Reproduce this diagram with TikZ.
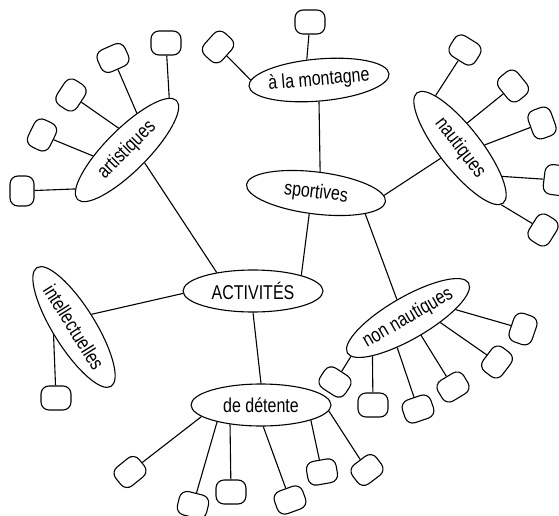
\documentclass[tikz,border=0pt]{standalone}
\usepackage{fontspec}
\setmainfont{Liberation Sans}[FakeStretch=0.8]
\usetikzlibrary{shapes.geometric}

\begin{document}
\begin{tikzpicture}[
    x=1pt, y=-1pt,
    line width=1.1pt,
    topic/.style={ellipse, draw, minimum width=140pt, minimum height=42pt, inner sep=-1pt, font=\fontsize{20}{22}\selectfont},
    leaf/.style={rectangle, draw, rounded corners=8pt, minimum width=30pt, minimum height=24pt}
]
    \useasboundingbox (0,0) rectangle (559,516);

    % main ellipses
    \node[topic] (act) at (253,291) {ACTIVITÉS};
    \node[topic, rotate=-7] (spo) at (316,193) {sportives};
    \node[topic, rotate=5] (mon) at (319,80) {à la montagne};
    \node[topic, rotate=-52] (nau) at (460,148) {nautiques};
    \node[topic, rotate=30] (non) at (408,318) {non nautiques};
    \node[topic] (det) at (261,405) {de détente};
    \node[topic, rotate=45] (art) at (127,150) {artistiques};
    \node[topic, rotate=-58] (int) at (74,327) {intellectuelles};

    \draw (act.153) -- (art.-81);
    \draw (act.18) -- (spo.259);
    \draw (act.182) -- (int.94);
    \draw (act.south) -- (det.north);
    \draw (mon.265) -- (spo.86);
    \draw (spo.5) -- (nau.260);
    \draw (spo.-16) -- (non.91);

    % empty boxes
    \foreach \n/\x/\y/\r/\a in {1/22/191/90/172, 2/42/135/64/145, 3/71/95/57/66, 4/113/58/24/30, 5/166/43/0/6} {
        \node[leaf, rotate=\r] (art\n) at (\x,\y) {};
        \draw (art.\a) -- (art\n);
    }
    \foreach \n/\x/\y/\r/\a in {1/310/22/0/116, 2/218/47/48/175} {
        \node[leaf, rotate=\r] (mon\n) at (\x,\y) {};
        \draw (mon.\a) -- (mon\n);
    }
    \foreach \n/\x/\y/\r/\a in {1/465/50/-32/167, 2/513/86/-51/126, 3/542/123/-70/59, 4/556/180/-97/18, 5/543/230/58/-2} {
        \node[leaf, rotate=\r] (nau\n) at (\x,\y) {};
        \draw (nau.\a) -- (nau\n);
    }
    \foreach \n/\x/\y/\r/\a in {1/335/382/-33/184, 2/373/405/0/197, 3/418/409/19/220, 4/453/387/31/-83, 5/497/362/53/-38, 6/523/329/71/-20} {
        \node[leaf, rotate=\r] (non\n) at (\x,\y) {};
        \draw (non.\a) -- (non\n);
    }
    \node[leaf] (int1) at (56,398) {};
    \draw (int.259) -- (int1);
    \foreach \n/\x/\y/\r/\a in {1/130/472/39/191, 2/193/505/-14/201, 3/231/492/0/212, 4/290/500/20/276, 5/322/472/10/-17, 6/367/470/37/-5} {
        \node[leaf, rotate=\r] (det\n) at (\x,\y) {};
        \draw (det.\a) -- (det\n);
    }

\end{tikzpicture}
\end{document}
